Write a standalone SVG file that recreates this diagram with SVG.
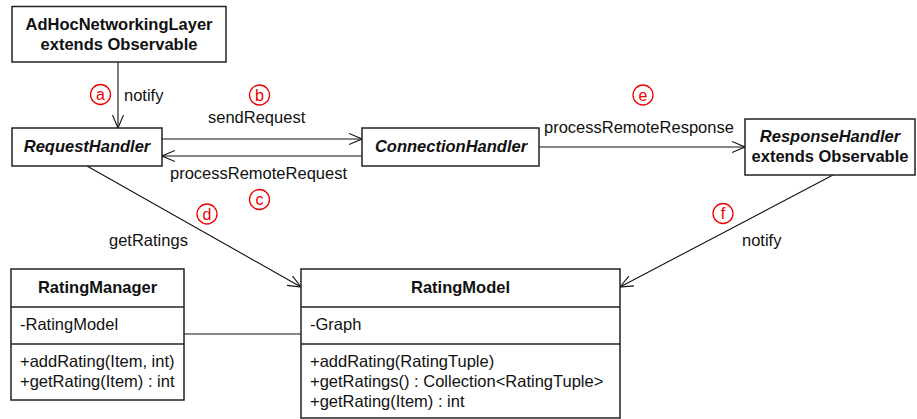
<svg xmlns="http://www.w3.org/2000/svg" width="917" height="419" viewBox="0 0 917 419">
<defs>
<style>
text{font-family:"Liberation Sans",Arial,sans-serif;font-size:16.5px;fill:#111}
.b{font-weight:bold}
.i{font-style:italic;font-weight:bold}
.m{text-anchor:middle}
.box{fill:#fff;stroke:#222;stroke-width:1.5}
.sep{stroke:#222;stroke-width:1.5}
.ln{stroke:#111;stroke-width:1.1;fill:none}
.c{fill:none;stroke:#e00;stroke-width:1.3}
.ct{fill:#e00;font-size:16px;text-anchor:middle}
</style>
<marker id="open" viewBox="0 0 14 12" refX="13" refY="6" markerWidth="14" markerHeight="12" markerUnits="userSpaceOnUse" orient="auto">
<path d="M0,0.5 L13,6 L0,11.5" fill="none" stroke="#111" stroke-width="1.1"/>
</marker>
</defs>

<g id="connectors">
<line class="ln" x1="118" y1="62" x2="118" y2="128" marker-end="url(#open)"/>
<line class="ln" x1="162" y1="139" x2="362" y2="139" marker-end="url(#open)"/>
<line class="ln" x1="362" y1="156" x2="162" y2="156" marker-end="url(#open)"/>
<line class="ln" x1="539" y1="147" x2="745" y2="147" marker-end="url(#open)"/>
<line class="ln" x1="87" y1="166" x2="301" y2="287" marker-end="url(#open)"/>
<line class="ln" x1="833" y1="175" x2="620" y2="287" marker-end="url(#open)"/>
<line class="ln" x1="184" y1="334" x2="301" y2="334"/>
<text x="124" y="101">notify</text>
<text x="208" y="123">sendRequest</text>
<text x="170" y="179">processRemoteRequest</text>
<text x="544" y="133">processRemoteResponse</text>
<text x="109" y="246">getRatings</text>
<text x="742" y="246">notify</text>
<circle class="c" cx="100.5" cy="94.5" r="10"/><text class="ct" x="100.5" y="100">a</text>
<circle class="c" cx="259.5" cy="95" r="10"/><text class="ct" x="259.5" y="100.5">b</text>
<circle class="c" cx="259.5" cy="199.5" r="10"/><text class="ct" x="259.5" y="205">c</text>
<circle class="c" cx="207" cy="214" r="10"/><text class="ct" x="207" y="219.5">d</text>
<circle class="c" cx="643" cy="95" r="10"/><text class="ct" x="643" y="100.5">e</text>
<circle class="c" cx="723" cy="213.5" r="10"/><text class="ct" x="723" y="219">f</text>
</g>

<g id="adhoc">
<rect class="box" x="12" y="6.5" width="214" height="55.5"/>
<text class="b m" x="119" y="30">AdHocNetworkingLayer</text>
<text class="b m" x="119" y="50">extends Observable</text>
</g>

<g id="requesthandler">
<rect class="box" x="12" y="128" width="150" height="38"/>
<text class="i m" x="87" y="152">RequestHandler</text>
</g>

<g id="connectionhandler">
<rect class="box" x="362" y="128" width="177" height="38"/>
<text class="i m" x="451" y="152">ConnectionHandler</text>
</g>

<g id="responsehandler">
<rect class="box" x="745" y="119" width="170" height="56"/>
<text class="i m" x="830" y="142">ResponseHandler</text>
<text class="b m" x="830" y="162">extends Observable</text>
</g>

<g id="ratingmanager">
<rect class="box" x="11" y="269" width="173" height="131"/>
<line class="sep" x1="11" y1="307" x2="184" y2="307"/>
<line class="sep" x1="11" y1="344" x2="184" y2="344"/>
<text class="b m" x="97.5" y="293">RatingManager</text>
<text x="20" y="330">-RatingModel</text>
<text x="20" y="367">+addRating(Item, int)</text>
<text x="20" y="387">+getRating(Item) : int</text>
</g>

<g id="ratingmodel">
<rect class="box" x="301" y="269" width="319" height="149"/>
<line class="sep" x1="301" y1="307" x2="620" y2="307"/>
<line class="sep" x1="301" y1="344" x2="620" y2="344"/>
<text class="b m" x="460.5" y="293">RatingModel</text>
<text x="310" y="330">-Graph</text>
<text x="310" y="367">+addRating(RatingTuple)</text>
<text x="310" y="387">+getRatings() : Collection&lt;RatingTuple&gt;</text>
<text x="310" y="407">+getRating(Item) : int</text>
</g>
</svg>
